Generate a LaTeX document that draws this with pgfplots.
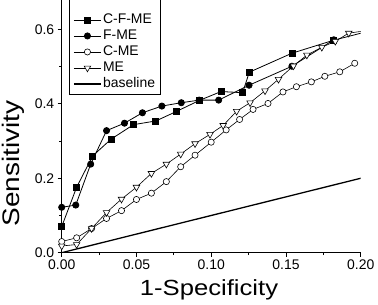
\documentclass[border=0pt]{standalone}
\usepackage{fontspec}
\setmainfont{Liberation Sans}
\newfontfamily\labfont[FakeStretch=1.17]{Liberation Sans}
\usepackage{pgfplots}
\pgfplotsset{compat=1.18}
\begin{document}
\begin{tikzpicture}
\begin{axis}[
  scale only axis, width=299bp, height=252.7bp,
  xmin=0, xmax=0.2, ymin=0, ymax=0.679,
  axis lines*=left, axis line style={-, line width=0.8bp},
  xtick={0,0.05,0.1,0.15,0.2}, ytick={0,0.2,0.4,0.6},
  minor x tick num=1, minor y tick num=1,
  scaled ticks=false,
  tick align=outside, major tick length=4bp, minor tick length=2.5bp,
  tick style={black, line width=0.7bp},
  /pgf/number format/assume math mode=true,
  x tick label style={/pgf/number format/fixed, /pgf/number format/fixed zerofill, /pgf/number format/precision=2},
  y tick label style={/pgf/number format/fixed, /pgf/number format/fixed zerofill, /pgf/number format/precision=1},
  tick label style={font=\fontsize{14}{16}\selectfont},
  xlabel={\labfont\fontsize{22}{26}\selectfont 1-Specificity},
  ylabel={\labfont\fontsize{24}{28}\selectfont Sensitivity},
  xlabel style={at={(axis description cs:0.4926,-0.1674)}, anchor=base},
  ylabel style={at={(axis description cs:-0.1395,0.353)}, anchor=base},
  legend image code/.code={\draw[mark repeat=2,mark phase=2] plot coordinates {(0bp,0bp) (13.5bp,0bp) (27bp,0bp)};},
  legend style={at={(axis description cs:0.0244,0.627)}, anchor=south west, draw=black, line width=0.6bp,
    font=\fontsize{14}{16}\selectfont, inner xsep=4bp, inner ysep=2bp, row sep=0pt,
    nodes={inner sep=1.5bp, text height=10bp, text depth=3bp}},
  legend cell align=left,
]
\addlegendimage{empty legend}\addlegendentry{}
\addplot[black, line width=0.8bp, mark=square*, mark size=3bp, mark options={solid, fill=black}] coordinates {
(0,0.070) (0.010,0.176) (0.0207,0.260) (0.033,0.305) (0.048,0.344) (0.063,0.354) (0.077,0.380) (0.092,0.409) (0.1066,0.433) (0.121,0.430) (0.1255,0.485) (0.154,0.536) (0.182,0.571)};
\addlegendentry{C-F-ME}
\addplot[black, line width=0.8bp, mark=*, mark size=3.1bp, mark options={solid, fill=black}] coordinates {
(0,0.122) (0.0094,0.128) (0.0194,0.238) (0.030,0.328) (0.042,0.348) (0.054,0.376) (0.067,0.394) (0.080,0.403) (0.092,0.410) (0.105,0.410) (0.1253,0.450) (0.154,0.501) (0.182,0.572)};
\addlegendentry{F-ME}
\addplot[black, line width=0.6bp, mark=*, mark size=3.1bp, mark options={solid, fill=white}] coordinates {
(0,0.030) (0.010,0.040) (0.020,0.065) (0.030,0.092) (0.040,0.113) (0.050,0.143) (0.060,0.160) (0.070,0.191) (0.0796,0.231) (0.0892,0.262) (0.100,0.297) (0.110,0.330) (0.119,0.358) (0.128,0.385) (0.138,0.401) (0.148,0.432) (0.157,0.446) (0.167,0.459) (0.176,0.474) (0.186,0.486) (0.196,0.509)};
\addlegendentry{C-ME}
\addplot[black, line width=0.6bp, mark=triangle*, mark size=3.8bp, mark options={solid, fill=white, rotate=180}] coordinates {
(0,0.018) (0.010,0.022) (0.020,0.065) (0.030,0.108) (0.040,0.144) (0.050,0.176) (0.060,0.213) (0.070,0.238) (0.0796,0.265) (0.0892,0.293) (0.0992,0.318) (0.108,0.342) (0.117,0.380) (0.126,0.403) (0.136,0.435) (0.145,0.466) (0.155,0.502) (0.164,0.531) (0.174,0.552) (0.183,0.568) (0.192,0.590)};
\addlegendentry{ME}
\addplot[black, line width=1.3bp] coordinates {(0,0) (0.2,0.2)};
\addlegendentry{baseline}
\addplot[forget plot, black, line width=0.8bp] coordinates {(0.182,0.571) (0.21,0.60)};
\addplot[forget plot, black, line width=0.6bp] coordinates {(0.192,0.590) (0.21,0.600)};
\end{axis}
\pgfresetboundingbox
\path (-61.7bp,-52.3bp) rectangle (316.3bp,252.7bp);
\end{tikzpicture}
\end{document}
